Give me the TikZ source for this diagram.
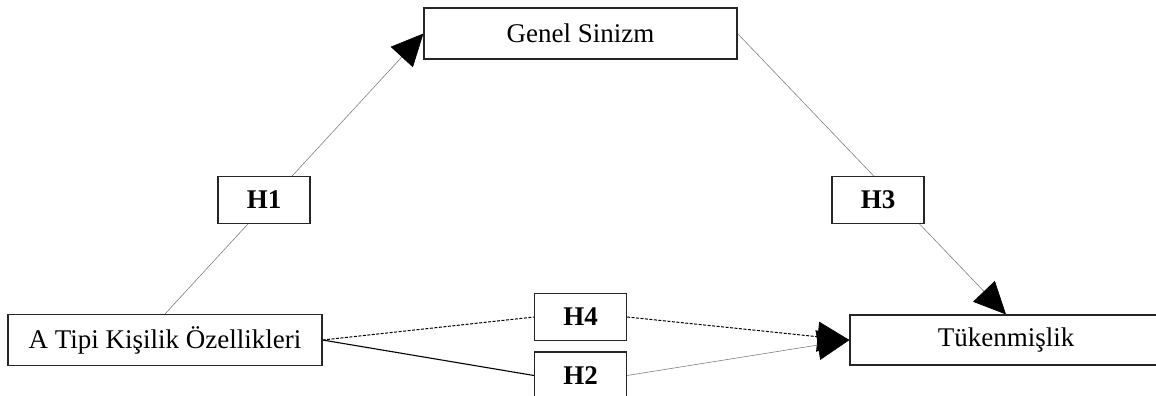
\documentclass[tikz,border=0pt]{standalone}
\usepackage{fontspec}
\setmainfont{Liberation Serif}
\usetikzlibrary{arrows.meta}
\pgfdeclarelayer{bg}
\pgfsetlayers{bg,main}
\begin{document}
\begin{tikzpicture}[x=1pt,y=-1pt,
  box/.style={draw=black!85, line width=1.1pt, fill=white, minimum height=51pt, inner sep=0pt, font=\fontsize{27}{30}\selectfont},
  hbox/.style={draw=black!85, line width=1.1pt, fill=white, minimum width=92pt, minimum height=47pt, inner sep=0pt, font=\fontsize{27}{30}\selectfont\bfseries},
  grayline/.style={draw=black!50, line width=0.6pt},
  dashline/.style={draw=black, line width=1pt, dash pattern=on 3pt off 1.5pt},
  blackline/.style={draw=black, line width=1.1pt},
  tip/.style={-{Triangle[length=32pt,width=30pt,color=black]}}
]
\useasboundingbox (0,0) rectangle (1156,396);
\node[box, minimum width=313pt] (G) at (580.5,33.5) {Genel Sinizm};
\node[box, minimum width=314pt] (A) at (165,340) {A Tipi Kişilik Özellikleri};
\node[box, minimum width=312pt, minimum height=50pt] (T) at (1006,340) {Tükenmişlik};
\node[hbox] (H1) at (264,200) {H1};
\node[hbox] (H3) at (878,200) {H3};
\node[hbox] (H4) at (580.5,317) {H4};
\node[hbox] (H2) at (580.5,375.5) {H2};
\begin{pgfonlayer}{bg}
\draw[grayline, tip] (A.north) -- (G.west);
\draw[grayline, tip] (G.east) -- (T.north);
\draw[dashline] (A.east) -- (H4.west);
\draw[dashline, tip] (H4.east) -- (T.west);
\draw[blackline] (A.east) -- (H2.west);
\draw[grayline, tip] (H2.east) -- (T.west);
\end{pgfonlayer}
\end{tikzpicture}
\end{document}
